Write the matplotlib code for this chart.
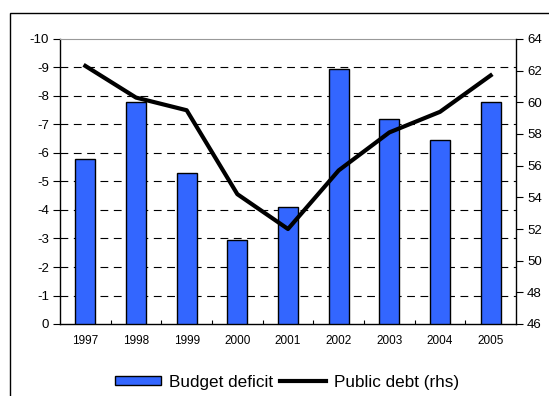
import matplotlib.pyplot as plt
import numpy as np
from matplotlib.patches import Rectangle
from matplotlib.ticker import FixedLocator

plt.rcParams["font.family"] = ["Liberation Sans", "DejaVu Sans"]

years = ["1997", "1998", "1999", "2000", "2001", "2002", "2003", "2004", "2005"]
budget_deficit = [-5.8, -7.8, -5.3, -2.95, -4.1, -8.95, -7.2, -6.45, -7.8]
public_debt = [62.3, 60.3, 59.5, 54.2, 52.0, 55.7, 58.1, 59.4, 61.7]

bar_color = "#3366ff"

fig = plt.figure(figsize=(5.49, 3.96), dpi=100)
fig.patch.set_facecolor("white")

# outer chart frame (runs past the right and bottom edges)
frame = Rectangle((10 / 549, -0.05), 1.1, (396 - 13) / 396 + 0.05,
                  transform=fig.transFigure, fill=False, edgecolor="black",
                  linewidth=1.0, clip_on=False)
fig.patches.append(frame)

ax = fig.add_axes([60 / 549, (396 - 324) / 396, 456 / 549, 285 / 396])
x = np.arange(len(years))

ax.bar(x, budget_deficit, width=0.4, color=bar_color, edgecolor="black",
       linewidth=1.0, zorder=3, label="Budget deficit")
ax.set_ylim(0, -10)
ax.set_xlim(-0.5, len(years) - 0.5)
ax.set_yticks(np.arange(0, -11, -1))
ax.set_yticklabels([str(v) for v in range(0, -11, -1)], fontsize=9.5)
ax.tick_params(axis="y", direction="out", length=5, width=0.8, pad=3)

for v in range(-1, -10, -1):
    ax.axhline(v, color="black", linewidth=0.8, linestyle=(0, (7, 5)), zorder=1)

ax.set_xticks(x)
ax.set_xticklabels(years, fontsize=8.5)
ax.tick_params(axis="x", which="major", length=0, pad=8)
ax.xaxis.set_minor_locator(FixedLocator(np.arange(0.5, len(years) - 0.5, 1)))
ax.tick_params(axis="x", which="minor", direction="in", length=3, width=0.8)

ax.spines["top"].set_color("#999999")
ax.spines["left"].set_linewidth(1.0)
ax.spines["bottom"].set_linewidth(1.0)
ax.spines["right"].set_visible(False)

ax2 = ax.twinx()
ax2.plot(x, public_debt, color="black", linewidth=3.0, zorder=5,
         label="Public debt (rhs)")
ax2.set_ylim(46, 64)
ax2.set_yticks(np.arange(46, 65, 2))
ax2.set_yticklabels([str(v) for v in range(46, 65, 2)], fontsize=9.5)
ax2.tick_params(axis="y", direction="out", length=5, width=0.8, pad=3)
ax2.spines["right"].set_linewidth(1.0)
ax2.spines["top"].set_visible(False)
ax2.spines["left"].set_visible(False)
ax2.spines["bottom"].set_visible(False)

handles = ax.get_legend_handles_labels()[0] + ax2.get_legend_handles_labels()[0]
labels = ["Budget deficit", "Public debt (rhs)"]
fig.legend(handles, labels, loc="center", bbox_to_anchor=(287 / 549, 1 - 382 / 396),
           ncol=2, frameon=False, fontsize=12.3, handlelength=2.7,
           handleheight=0.41, handletextpad=0.47, columnspacing=0.41)

fig.savefig("out.png", dpi=100)
